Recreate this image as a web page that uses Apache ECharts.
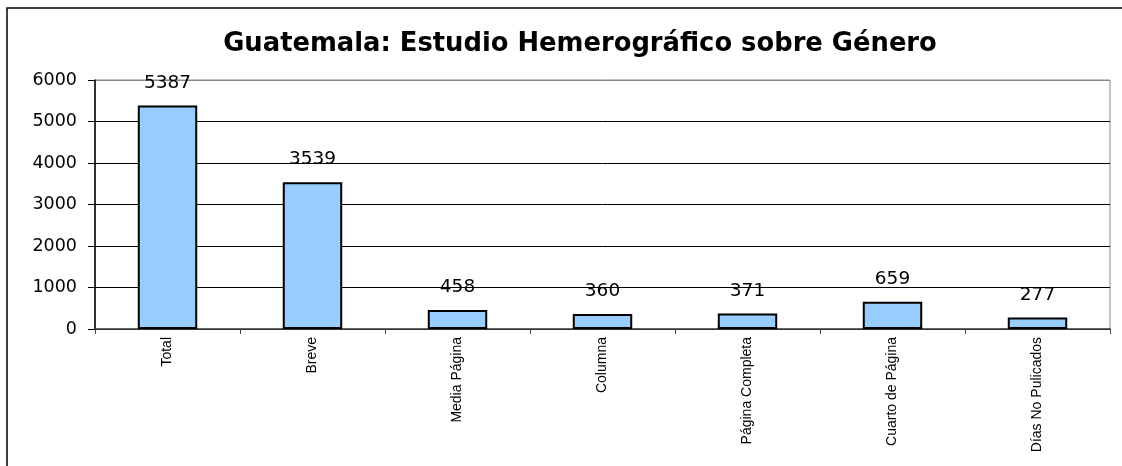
<!DOCTYPE html>
<html><head><meta charset="utf-8">
<script src="https://cdn.jsdelivr.net/npm/echarts@6/dist/echarts.min.js"></script>
<style>html,body{margin:0;padding:0;background:#fff}#c{width:1122px;height:466px}</style>
</head><body><div id="c"></div>
<script>
const titleText = 'Guatemala: Estudio Hemerográfico sobre Género';
const categories = ['Total','Breve','Media Página','Columna','Página Completa','Cuarto de Página','Días No Pulicados'];
const values = [5387, 3539, 458, 360, 371, 659, 277];
const yTicks = [0, 1000, 2000, 3000, 4000, 5000, 6000];

const chart = echarts.init(document.getElementById('c'), null, {renderer:'canvas'});
chart.setOption({
  backgroundColor:'#fff',
  animation:false,
  title:{text:titleText,left:575,textAlign:'center',top:26,
    textStyle:{fontFamily:'DejaVu Sans',fontWeight:'bold',fontSize:25.8,color:'#000'}},
  graphic:[{type:'rect',shape:{x:7,y:8,width:1300,height:600},style:{fill:null,stroke:'#000',lineWidth:1.5},silent:true,z:-1}],
  grid:{left:95,right:12,top:80,bottom:137,show:true,borderColor:'#888',borderWidth:1,backgroundColor:'transparent'},
  xAxis:{type:'category',data:categories,boundaryGap:true,
    axisLine:{lineStyle:{color:'#444',width:1.5}},
    axisTick:{show:true,length:5,lineStyle:{color:'#444'}},
    axisLabel:{rotate:90,fontFamily:'Liberation Sans, Arial',fontSize:14,color:'#000',margin:8,interval:0}},
  yAxis:{type:'value',min:yTicks[0],max:yTicks[yTicks.length-1],interval:1000,
    axisLine:{show:true,lineStyle:{color:'#000',width:1.5}},
    axisTick:{show:true,length:7,lineStyle:{color:'#000'}},
    axisLabel:{fontFamily:'DejaVu Sans',fontSize:17.5,color:'#000',margin:18,formatter:function(v){return String(v);}},
    splitLine:{show:true,lineStyle:{color:['#000','#000','#000','#000','#000','#000','#888'],width:1}}},
  series:[{type:'bar',data:values,barWidth:'41%',
    itemStyle:{color:'#99CCFF',borderColor:'#000',borderWidth:2},
    label:{show:true,position:'top',distance:13,fontFamily:'DejaVu Sans',fontSize:18.5,color:'#000'}}]
});
</script></body></html>
